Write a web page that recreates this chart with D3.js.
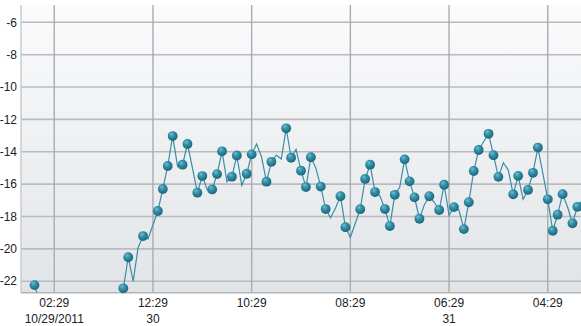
<!DOCTYPE html>
<html>
<head>
<meta charset="utf-8">
<script src="https://cdn.jsdelivr.net/npm/d3@7"></script>
<style>
  html, body { margin: 0; padding: 0; background: #fff; }
  svg { display: block; font-family: "Liberation Sans", Arial, sans-serif; }
</style>
</head>
<body>
<div id="chart"></div>
<script>
// readings every 30 minutes, first one at 12:29 PM 10/29/2011 (UTC used throughout)
const startTime = Date.UTC(2011, 9, 29, 12, 29);
const stepMinutes = 30;

const values = [
  -22.24, -23.2, -23.9, -24.4, -24.8, -25.1, -25.3, -25.2, -25.0, -24.9,
  -25.1, -25.3, -25.2, -24.9, -24.7, -24.5, -24.3, -24.0, -22.44, -20.52,
  -21.99, -19.91, -19.21, -19.38, -18.53, -17.66, -16.30, -14.88, -13.03, -14.92,
  -14.80, -13.52, -15.00, -16.53, -15.50, -16.36, -16.33, -15.38, -13.97, -15.85,
  -15.54, -14.23, -16.07, -15.36, -14.16, -13.52, -14.31, -15.85, -14.62, -14.20,
  -14.45, -12.55, -14.37, -13.85, -15.17, -16.18, -14.34, -15.00, -16.15, -17.54,
  -18.08, -17.48, -16.75, -18.66, -19.29, -18.42, -17.55, -15.68, -14.80, -16.49,
  -16.74, -17.54, -18.59, -16.66, -16.20, -14.47, -15.83, -16.82, -18.14, -17.27,
  -16.75, -17.12, -17.60, -16.04, -17.93, -17.42, -17.60, -18.78, -17.12, -15.19,
  -13.89, -13.38, -12.89, -14.21, -15.55, -14.68, -15.13, -16.63, -15.49, -16.94,
  -16.36, -15.30, -13.74, -15.33, -16.94, -18.88, -17.89, -16.62, -17.40, -18.42,
  -17.40, -17.00
];

// readings that carry a marker
const markerIdx = [
  0, 18, 19, 22, 25, 26, 27, 28, 30, 31, 33, 34, 36, 37, 38, 40, 41, 43, 44, 47,
  48, 51, 52, 54, 55, 56, 58, 59, 62, 63, 66, 67, 68, 69, 71, 72, 73, 75, 76, 77,
  78, 80, 82, 83, 85, 87, 88, 89, 90, 92, 93, 94, 97, 98, 100, 101, 102, 104, 105,
  106, 107, 109, 110
];

const yTicks = [-22, -20, -18, -16, -14, -12, -10, -8, -6];
const xTicks = [
  Date.UTC(2011, 9, 29, 14, 29),
  Date.UTC(2011, 9, 30, 0, 29),
  Date.UTC(2011, 9, 30, 10, 29),
  Date.UTC(2011, 9, 30, 20, 29),
  Date.UTC(2011, 9, 31, 6, 29),
  Date.UTC(2011, 9, 31, 16, 29)
].map(t => new Date(t));

const xDomain = [new Date(Date.UTC(2011, 9, 29, 11, 7)), new Date(Date.UTC(2011, 9, 31, 19, 51))];
const yDomain = [-22.71, -4.93];

const width = 581, height = 326;
const plot = { left: 21, right: 581, top: 5, bottom: 292.7 };

const data = values.map((v, i) => ({
  t: new Date(startTime + i * stepMinutes * 60000),
  v,
  marker: markerIdx.includes(i)
}));

const x = d3.scaleUtc().domain(xDomain).range([plot.left, plot.right]);
const y = d3.scaleLinear().domain(yDomain).range([plot.bottom, plot.top]);

const svg = d3.select('#chart').append('svg')
  .attr('width', width).attr('height', height);

const defs = svg.append('defs');
const bg = defs.append('linearGradient').attr('id', 'bg')
  .attr('x1', 0).attr('y1', 0).attr('x2', 0).attr('y2', 1);
bg.append('stop').attr('offset', '0%').attr('stop-color', '#fbfbfc');
bg.append('stop').attr('offset', '100%').attr('stop-color', '#e1e4e7');

const ball = defs.append('radialGradient').attr('id', 'ball')
  .attr('cx', '45%').attr('cy', '40%').attr('r', '60%')
  .attr('fx', '35%').attr('fy', '28%');
ball.append('stop').attr('offset', '0%').attr('stop-color', '#72bfd2');
ball.append('stop').attr('offset', '45%').attr('stop-color', '#3290a9');
ball.append('stop').attr('offset', '100%').attr('stop-color', '#1b6479');

defs.append('clipPath').attr('id', 'plotClip')
  .append('rect')
    .attr('x', plot.left).attr('y', plot.top)
    .attr('width', plot.right - plot.left).attr('height', plot.bottom - plot.top);

svg.append('rect')
  .attr('x', plot.left).attr('y', plot.top)
  .attr('width', plot.right - plot.left).attr('height', plot.bottom - plot.top)
  .attr('fill', 'url(#bg)');

// horizontal grid
svg.append('g').selectAll('line')
  .data(yTicks)
  .join('line')
    .attr('x1', plot.left).attr('x2', plot.right)
    .attr('y1', d => y(d)).attr('y2', d => y(d))
    .attr('stroke', '#b8bbbf').attr('stroke-width', 1.6);

// vertical grid
svg.append('g').selectAll('line')
  .data(xTicks)
  .join('line')
    .attr('x1', d => x(d)).attr('x2', d => x(d))
    .attr('y1', plot.top).attr('y2', plot.bottom)
    .attr('stroke', '#a9acb0').attr('stroke-width', 1.4);

// axis lines
svg.append('line')
  .attr('x1', plot.left).attr('x2', plot.left)
  .attr('y1', plot.top).attr('y2', plot.bottom)
  .attr('stroke', '#c9cbce').attr('stroke-width', 1.5);
svg.append('line')
  .attr('x1', plot.left).attr('x2', plot.right)
  .attr('y1', plot.bottom).attr('y2', plot.bottom)
  .attr('stroke', '#b0b3b7').attr('stroke-width', 1.5);

// y labels
svg.append('g').selectAll('text')
  .data(yTicks)
  .join('text')
    .attr('x', 17).attr('y', d => y(d))
    .attr('dy', '0.35em')
    .attr('text-anchor', 'end')
    .style('font-size', '12px')
    .attr('fill', '#222')
    .text(d => d3.format('d')(d).replace('\u2212', '-'));

// x labels
const fmtTime = d3.utcFormat('%I:%M');
const fmtDay = d3.utcFormat('%-d');
const fmtFull = d3.utcFormat('%m/%d/%Y');
const xl = svg.append('g');
xl.selectAll('text.time')
  .data(xTicks)
  .join('text')
    .attr('class', 'time')
    .attr('x', d => x(d)).attr('y', 303)
    .attr('dy', '0.35em')
    .attr('text-anchor', 'middle')
    .style('font-size', '12px')
    .attr('fill', '#222')
    .text(fmtTime);
xl.selectAll('text.day')
  .data(xTicks.filter((d, i) => i === 0 || d.getUTCDate() !== xTicks[i - 1].getUTCDate()))
  .join('text')
    .attr('class', 'day')
    .attr('x', d => x(d)).attr('y', 318.5)
    .attr('dy', '0.35em')
    .attr('text-anchor', 'middle')
    .style('font-size', '12px')
    .attr('fill', '#222')
    .text((d, i) => i === 0 ? fmtFull(d) : fmtDay(d));

// series line
const line = d3.line().x(d => x(d.t)).y(d => y(d.v));
svg.append('path')
  .datum(data)
  .attr('clip-path', 'url(#plotClip)')
  .attr('fill', 'none')
  .attr('stroke', '#3a8ea6')
  .attr('stroke-width', 1.2)
  .attr('d', line);

// markers
svg.append('g').selectAll('circle')
  .data(data.filter(d => d.marker))
  .join('circle')
    .attr('cx', d => x(d.t)).attr('cy', d => y(d.v))
    .attr('r', 4.9)
    .attr('fill', 'url(#ball)');
</script>
</body>
</html>
